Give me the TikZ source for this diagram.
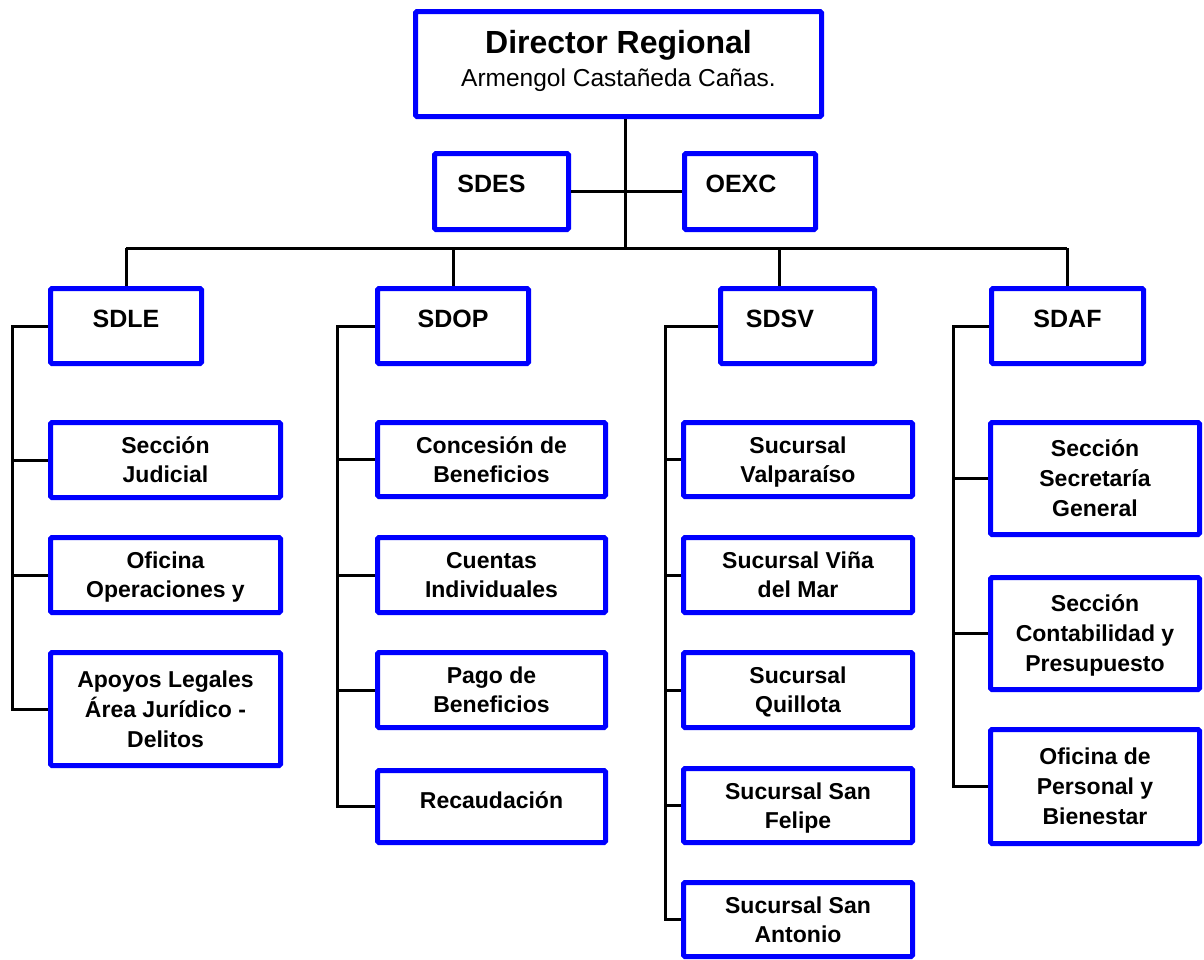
\documentclass[tikz,border=0pt]{standalone}
\usepackage{fontspec}
\setmainfont{Liberation Sans}
\tikzset{
  x=1pt, y=-1pt,
  box/.style={draw=blue, line width=5pt, rounded corners=1.5pt, rectangle, inner sep=0pt, align=center, font=\bfseries\fontsize{23}{29}\selectfont, text=black, text depth=0pt},
  head/.style={font=\bfseries\fontsize{25}{29}\selectfont, text height=18pt, text depth=16pt},
  conn/.style={draw=black, line width=3pt}
}
\newcommand\obox[7][]{%
  \pgfmathsetmacro\obcx{(#3+#5)/2}\pgfmathsetmacro\obcy{(#4+#6)/2}%
  \pgfmathsetmacro\obw{#5-#3-5}\pgfmathsetmacro\obh{#6-#4-5}%
  \node[box,minimum width=\obw pt,minimum height=\obh pt,#1] (#2) at (\obcx,\obcy) {#7};}
\begin{document}
\begin{tikzpicture}
\useasboundingbox (0,0) rectangle (1204,959);
% top
\obox[font=\bfseries\fontsize{32}{35}\selectfont, text depth=11pt]{top}{413}{9}{824}{119}{Director Regional\\[-2pt]{\mdseries\fontsize{24.5}{28}\selectfont Armengol Castañeda Cañas.}}
\obox[head]{sdes}{432}{151}{571}{232}{SDES\hspace{20pt}}
\obox[head]{oexc}{682}{151}{818}{232}{OEXC\hspace{18pt}}
% level 2
\obox[head]{sdle}{48}{286}{204}{366}{SDLE}
\obox[head]{sdop}{375}{286}{531}{366}{SDOP}
\obox[head]{sdsv}{718}{286}{877}{366}{SDSV\hspace{35pt}}
\obox[head]{sdaf}{989}{286}{1146}{366}{SDAF}
% SDLE children
\obox{le1}{48}{420}{283}{500}{Sección\\Judicial}
\obox{le2}{48}{535}{283}{615}{Oficina\\Operaciones y}
\obox[font=\bfseries\fontsize{23}{30}\selectfont]{le3}{48}{650}{283}{768}{Apoyos Legales\\Área Jurídico -\\Delitos}
% SDOP children
\obox{op1}{375}{420}{608}{499}{Concesión de\\Beneficios}
\obox{op2}{375}{535}{608}{615}{Cuentas\\Individuales}
\obox{op3}{375}{650}{608}{730}{Pago de\\Beneficios}
\obox[text height=17pt, text depth=14pt]{op4}{375}{768}{608}{845}{Recaudación}
% SDSV children
\obox{sv1}{681}{420}{915}{499}{Sucursal\\Valparaíso}
\obox{sv2}{681}{535}{915}{615}{Sucursal Viña\\del Mar}
\obox{sv3}{681}{650}{915}{730}{Sucursal\\Quillota}
\obox{sv4}{681}{766}{915}{845}{Sucursal San\\Felipe}
\obox{sv5}{681}{880}{915}{959}{Sucursal San\\Antonio}
% SDAF children
\obox[font=\bfseries\fontsize{23}{30}\selectfont]{af1}{988}{420}{1202}{537}{Sección\\Secretaría\\General}
\obox[font=\bfseries\fontsize{23}{30}\selectfont]{af2}{988}{575}{1202}{692}{Sección\\Contabilidad y\\Presupuesto}
\obox[font=\bfseries\fontsize{23}{30}\selectfont]{af3}{988}{727}{1202}{846}{Oficina de\\Personal y\\Bienestar}
% coordinates
\coordinate (trunk) at (625,248);
\coordinate (b1) at (126,248);
\coordinate (b2) at (453,248);
\coordinate (b3) at (779,248);
\coordinate (b4) at (1067,248);
\coordinate (s1) at (12,0);
\coordinate (s2) at (337,0);
\coordinate (s3) at (665,0);
\coordinate (s4) at (953,0);
% trunk and bus
\draw[conn] (top.south -| trunk) -- (trunk);
\draw[conn] (sdes.east) -- (oexc.west);
\draw[conn] (b1) -- (b4);
\draw[conn] (b1) -- (b1 |- sdle.north);
\draw[conn] (b2) -- (b2 |- sdop.north);
\draw[conn] (b3) -- (b3 |- sdsv.north);
\draw[conn] (b4) -- (b4 |- sdaf.north);
% spines
\draw[conn] (sdle.west) -- (sdle.west -| s1) -- (le3.west -| s1) -- (le3.west);
\foreach \c in {le1,le2} \draw[conn] (\c.west -| s1) -- (\c.west);
\draw[conn] (sdop.west) -- (sdop.west -| s2) -- (op4.west -| s2) -- (op4.west);
\foreach \c in {op1,op2,op3} \draw[conn] (\c.west -| s2) -- (\c.west);
\draw[conn] (sdsv.west) -- (sdsv.west -| s3) -- (sv5.west -| s3) -- (sv5.west);
\foreach \c in {sv1,sv2,sv3,sv4} \draw[conn] (\c.west -| s3) -- (\c.west);
\draw[conn] (sdaf.west) -- (sdaf.west -| s4) -- (af3.west -| s4) -- (af3.west);
\foreach \c in {af1,af2} \draw[conn] (\c.west -| s4) -- (\c.west);
\end{tikzpicture}
\end{document}
